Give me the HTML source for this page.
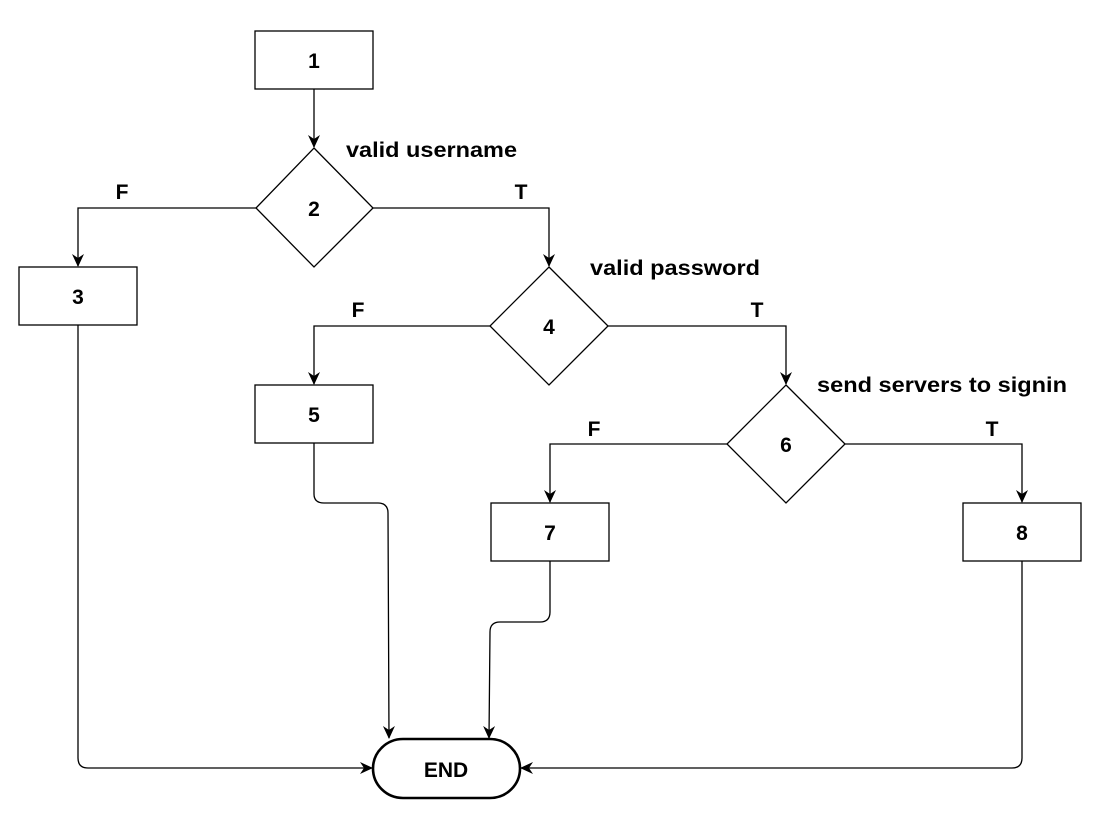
<!DOCTYPE html>
<html><head><style>html,body{margin:0;padding:0;background:#fff;}svg{display:block}</style></head>
<body>
<svg width="1106" height="832" viewBox="0 0 1106 832" xmlns="http://www.w3.org/2000/svg" font-family="Liberation Sans, Arial, sans-serif" font-weight="bold">
<defs>
<marker id="a" markerWidth="14" markerHeight="14" refX="12" refY="6" orient="auto" markerUnits="userSpaceOnUse">
<path d="M0,0 L13,6 L0,12 L4,6 Z" fill="#000"/>
</marker>
</defs>
<g fill="#fff" stroke="#000" stroke-width="1.3">
<rect x="255" y="31" width="118" height="58"/>
<polygon points="314,148 373,208 314,267 256,208"/>
<rect x="19" y="267" width="118" height="58"/>
<polygon points="549,267 608,326 549,385 490,326"/>
<rect x="255" y="385" width="118" height="58"/>
<polygon points="786,385 845,444 786,503 727,444"/>
<rect x="491" y="503" width="118" height="58"/>
<rect x="963" y="503" width="118" height="58"/>
<rect x="373" y="739" width="147" height="59" rx="30" ry="30" stroke-width="2.6"/>
</g>
<g fill="none" stroke="#000" stroke-width="1.3" marker-end="url(#a)">
<path d="M314,89 V147"/>
<path d="M256,208 H78 V266"/>
<path d="M373,208 H549 V266"/>
<path d="M490,326 H314 V384"/>
<path d="M608,326 H786 V384"/>
<path d="M727,444 H550 V502"/>
<path d="M845,444 H1022 V502"/>
<path d="M78,325 V758 Q78,768 88,768 H372"/>
<path d="M314,443 V494 Q314,503 324,503 H378 Q388,503 388,513 L389,738"/>
<path d="M550,561 V612 Q550,622 540,622 H500 Q490,622 490,632 L489,738"/>
<path d="M1022,561 V758 Q1022,768 1012,768 H521"/>
</g>
<g font-size="21" text-anchor="middle" fill="#000">
<text x="314" y="68">1</text>
<text x="314" y="216">2</text>
<text x="78" y="304">3</text>
<text x="549" y="334">4</text>
<text x="314" y="422">5</text>
<text x="786" y="452">6</text>
<text x="550" y="540">7</text>
<text x="1022" y="540">8</text>
<text x="446" y="777">END</text>
<text x="122" y="199">F</text>
<text x="521" y="199">T</text>
<text x="358" y="317">F</text>
<text x="757" y="317">T</text>
<text x="594" y="436">F</text>
<text x="992" y="436">T</text>
</g>
<g font-size="21" fill="#000">
<text x="346" y="157" textLength="171" lengthAdjust="spacingAndGlyphs">valid username</text>
<text x="590" y="275" textLength="170" lengthAdjust="spacingAndGlyphs">valid password</text>
<text x="817" y="392" textLength="250" lengthAdjust="spacingAndGlyphs">send servers to signin</text>
</g>
</svg>
</body></html>
